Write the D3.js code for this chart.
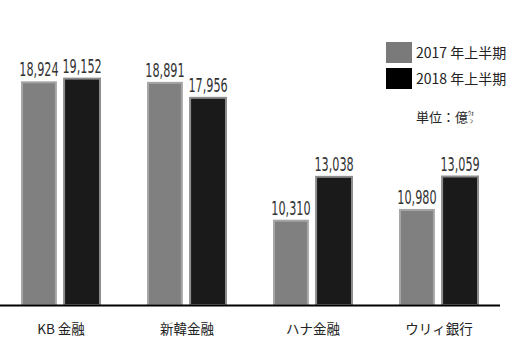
<!DOCTYPE html>
<html>
<head>
<meta charset="utf-8">
<script src="https://cdn.jsdelivr.net/npm/d3@7"></script>
<style>
  body { margin: 0; background: #fff; }
  svg { display: block; }
</style>
</head>
<body>
<div id="chart"></div>
<script>
// 銀行ごとの純利益（億ｳｫﾝ）
var banks = ["KB 金融", "新韓金融", "ハナ金融", "ウリィ銀行"];
var series = ["2017 年上半期", "2018 年上半期"];
var values2017 = [18924, 18891, 10310, 10980];
var values2018 = [19152, 17956, 13038, 13059];
var unitLabel = "単位：億";

var width = 510, height = 345;
var baseY = 305;

var fills = ["#808080", "#1a1a1a"];
var strokes = ["#a6a6a6", "#8c8c8c"];

var rows = banks.map(function(b, i) {
  return { bank: b, vals: [values2017[i], values2018[i]] };
});

var svg = d3.select("#chart").append("svg")
  .attr("width", width)
  .attr("height", height);

var x0 = d3.scaleBand().domain(banks).range([-2, 502]);
var x1 = d3.scaleBand().domain([0, 1]).range([0, 80]).paddingInner(0.1);
// 縦軸はゼロからではなく 5,000 から始まる
var y = d3.scaleLinear().domain([5000, 20000]).range([baseY, 64]);

var groups = svg.selectAll("g.bank")
  .data(rows)
  .enter().append("g")
  .attr("class", "bank")
  .attr("transform", function(d) {
    return "translate(" + (x0(d.bank) + x0.bandwidth() / 2 - 40) + ",0)";
  });

groups.selectAll("rect")
  .data(function(d) { return d.vals.map(function(v, j) { return { v: v, j: j }; }); })
  .enter().append("rect")
  .attr("x", function(d) { return x1(d.j) + 1; })
  .attr("y", function(d) { return y(d.v) + 1; })
  .attr("width", function(d) { return x1.bandwidth() - 2 - (d.j === 0 ? 2 : 0); })
  .attr("height", function(d) { return baseY - y(d.v) - 1; })
  .attr("fill", function(d) { return fills[d.j]; })
  .attr("stroke", function(d) { return strokes[d.j]; })
  .attr("stroke-width", 2);

var fmt = d3.format(",");
groups.selectAll("text.val")
  .data(function(d) { return d.vals.map(function(v, j) { return { v: v, j: j }; }); })
  .enter().append("text")
  .attr("class", "val")
  .attr("transform", function(d) {
    var cx = x1(d.j) + x1.bandwidth() / 2 - (d.j === 0 ? 1 : 0);
    return "translate(" + cx + "," + (y(d.v) - 5) + ") scale(0.64,1)";
  })
  .attr("text-anchor", "middle")
  .attr("font-family", "'DejaVu Sans Condensed', 'DejaVu Sans', sans-serif")
  .attr("font-size", 19.5)
  .attr("fill", "#333")
  .text(function(d) { return fmt(d.v); });

// 横軸
svg.append("line")
  .attr("x1", 0).attr("x2", 500)
  .attr("y1", baseY + 0.5).attr("y2", baseY + 0.5)
  .attr("stroke", "#000")
  .attr("stroke-width", 2);

svg.selectAll("text.cat")
  .data(banks)
  .enter().append("text")
  .attr("class", "cat")
  .attr("x", function(d) { return x0(d) + x0.bandwidth() / 2; })
  .attr("y", 334)
  .attr("text-anchor", "middle")
  .attr("font-family", "'Noto Sans CJK JP', sans-serif")
  .attr("font-size", 13.5)
  .attr("fill", "#222")
  .text(function(d) { return d; });

// 凡例
var legend = svg.append("g").attr("transform", "translate(386,42)");
var items = legend.selectAll("g")
  .data(series)
  .enter().append("g")
  .attr("transform", function(d, i) { return "translate(0," + (i * 26) + ")"; });

items.append("rect")
  .attr("width", 26)
  .attr("height", 21)
  .attr("fill", function(d, i) { return i === 0 ? "#7a7a7a" : "#000"; });

items.append("text")
  .attr("x", 30)
  .attr("y", 16)
  .attr("font-family", "'Noto Sans CJK JP', sans-serif")
  .attr("font-size", 14)
  .attr("fill", "#222")
  .text(function(d) { return d; });

// 単位（ｳｫﾝ は小さく二段組み）
var unit = svg.append("text")
  .attr("x", 416).attr("y", 122)
  .attr("font-family", "'Noto Sans CJK JP', sans-serif")
  .attr("font-size", 13)
  .attr("fill", "#222");
unit.append("tspan").text(unitLabel);
unit.append("tspan")
  .attr("font-size", 6)
  .attr("dy", -7)
  .text("ｳｫ");
unit.append("tspan")
  .attr("font-size", 6)
  .attr("x", 470)
  .attr("dy", 7.5)
  .text("ﾝ");
</script>
</body>
</html>
